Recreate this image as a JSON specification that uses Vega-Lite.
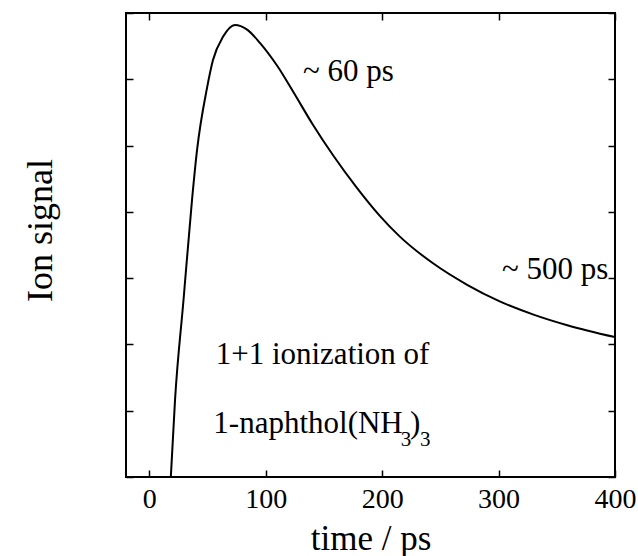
{
  "$schema": "https://vega.github.io/schema/vega-lite/v6.json",
  "width": 489,
  "height": 464,
  "autosize": {"type": "none"},
  "padding": {"left": 126, "top": 13, "right": 23, "bottom": 79},
  "background": "white",
  "config": {
    "view": {"stroke": "black", "strokeWidth": 2},
    "font": "'Liberation Serif', 'Times New Roman', serif",
    "text": {"font": "'Liberation Serif', 'Times New Roman', serif"},
    "axis": {"grid": false, "domain": false, "tickColor": "black", "tickWidth": 1.5, "tickSize": -7, "labelFont": "'Liberation Serif', 'Times New Roman', serif", "titleFont": "'Liberation Serif', 'Times New Roman', serif", "labelColor": "black", "titleColor": "black", "titleFontWeight": "normal", "labelFlush": false}
  },
  "datasets": {
    "curve": [
      {"t": 18.5, "v": 0},
      {"t": 22.1, "v": 1.16},
      {"t": 29.4, "v": 2.67},
      {"t": 36.7, "v": 4.18},
      {"t": 41.0, "v": 4.93},
      {"t": 49.6, "v": 5.87},
      {"t": 54.7, "v": 6.29},
      {"t": 63.3, "v": 6.64},
      {"t": 73.6, "v": 6.82},
      {"t": 84, "v": 6.75},
      {"t": 95, "v": 6.55},
      {"t": 110, "v": 6.2},
      {"t": 124, "v": 5.8},
      {"t": 140, "v": 5.33},
      {"t": 158, "v": 4.85},
      {"t": 178, "v": 4.37},
      {"t": 198, "v": 3.94},
      {"t": 215, "v": 3.63},
      {"t": 244, "v": 3.22},
      {"t": 273, "v": 2.9},
      {"t": 301, "v": 2.65},
      {"t": 330, "v": 2.45},
      {"t": 359, "v": 2.29},
      {"t": 400, "v": 2.11}
    ],
    "notes": [
      {"t": 132, "v": 6.11, "label": "~ 60 ps"},
      {"t": 303, "v": 3.12, "label": "~ 500 ps"},
      {"t": 57, "v": 1.84, "label": "1+1 ionization of"},
      {"t": 55, "v": 0.8, "label": "1-naphthol(NH"},
      {"t": 224, "v": 0.8, "label": ")"}
    ],
    "subs": [
      {"t": 216, "v": 0.56, "label": "3"},
      {"t": 232.5, "v": 0.56, "label": "3"}
    ]
  },
  "layer": [
    {
      "data": {"name": "curve"},
      "mark": {"type": "line", "color": "black", "strokeWidth": 2, "interpolate": "monotone", "clip": true},
      "encoding": {
        "x": {"field": "t", "type": "quantitative", "scale": {"domain": [-20, 400], "nice": false, "zero": false},
          "axis": {"orient": "bottom", "values": [0, 100, 200, 300, 400], "labelFontSize": 28, "labelPadding": 15, "title": "time / ps", "titleFontSize": 35, "titlePadding": 8}},
        "y": {"field": "v", "type": "quantitative", "scale": {"domain": [0, 7], "nice": false},
          "axis": {"orient": "left", "values": [0, 1, 2, 3, 4, 5, 6, 7], "labels": false, "title": "Ion signal", "titleFontSize": 36, "titlePadding": 66, "titleY": 217}}
      }
    },
    {
      "data": {"name": "notes"},
      "mark": {"type": "text", "align": "left", "baseline": "middle", "fontSize": 31, "color": "black"},
      "encoding": {
        "x": {"field": "t", "type": "quantitative", "axis": {"orient": "top", "values": [0, 100, 200, 300, 400], "labels": false, "title": null}},
        "y": {"field": "v", "type": "quantitative", "axis": {"orient": "right", "values": [0, 1, 2, 3, 4, 5, 6, 7], "labels": false, "title": null}},
        "text": {"field": "label"}
      }
    },
    {
      "data": {"name": "subs"},
      "mark": {"type": "text", "align": "left", "baseline": "middle", "fontSize": 21, "color": "black"},
      "encoding": {
        "x": {"field": "t", "type": "quantitative", "axis": null},
        "y": {"field": "v", "type": "quantitative", "axis": null},
        "text": {"field": "label"}
      }
    }
  ],
  "resolve": {"axis": {"x": "independent", "y": "independent"}}
}
